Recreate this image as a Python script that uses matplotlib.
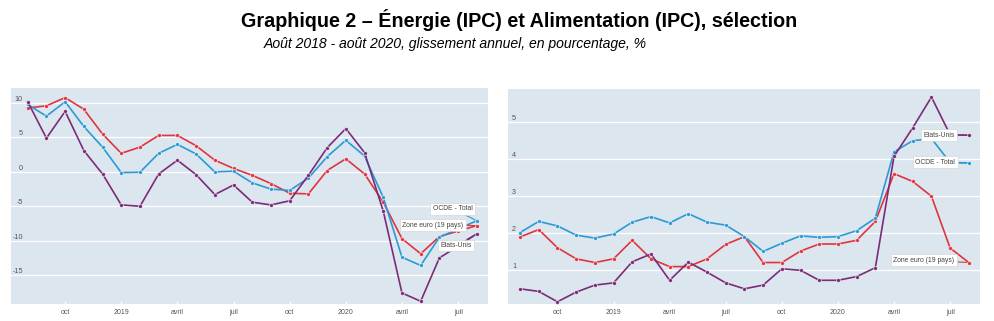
import numpy as np
import matplotlib.pyplot as plt

# mois d'août 2018 à août 2020
months = np.arange(25)
tick_pos = [2, 5, 8, 11, 14, 17, 20, 23]
tick_labels = ["oct", "2019", "avril", "juil", "oct", "2020", "avril", "juil"]

# Energie (IPC), glissement annuel %
energy_euro = [9.3, 9.6, 10.8, 9.1, 5.5, 2.7, 3.6, 5.3, 5.3, 3.8, 1.7, 0.5, -0.5,
               -1.7, -3.1, -3.2, 0.2, 1.9, -0.3, -4.4, -9.7, -11.9, -9.4, -8.6, -7.8]
energy_ocde = [9.8, 8.1, 10.2, 6.6, 3.6, -0.1, -0.05, 2.7, 4.0, 2.6, 0.0, 0.1, -1.6,
               -2.5, -2.7, -0.9, 2.2, 4.6, 2.3, -3.7, -12.4, -13.6, -9.5, -8.3, -7.1]
energy_usa = [10.2, 4.9, 8.8, 3.1, -0.3, -4.8, -5.0, -0.3, 1.7, -0.4, -3.3, -1.9, -4.4,
              -4.8, -4.2, -0.5, 3.5, 6.3, 2.8, -5.7, -17.6, -18.8, -12.5, -10.8, -9.0]

# Alimentation (IPC), glissement annuel %
food_ocde = [2.01, 2.31, 2.19, 1.94, 1.86, 1.97, 2.29, 2.44, 2.27, 2.52, 2.29, 2.21, 1.90,
             1.50, 1.72, 1.92, 1.88, 1.90, 2.06, 2.40, 4.19, 4.49, 4.55, 3.90, 3.89]
food_euro = [1.89, 2.09, 1.60, 1.30, 1.20, 1.30, 1.80, 1.30, 1.09, 1.09, 1.30, 1.69, 1.90,
             1.20, 1.20, 1.51, 1.70, 1.70, 1.80, 2.31, 3.60, 3.39, 2.99, 1.59, 1.20]
food_usa = [0.49, 0.42, 0.14, 0.40, 0.59, 0.65, 1.22, 1.43, 0.72, 1.21, 0.94, 0.65, 0.49,
            0.59, 1.03, 0.99, 0.72, 0.72, 0.82, 1.06, 4.07, 4.84, 5.67, 4.65, 4.64]

RED = "#e0343e"
BLUE = "#2b9ad4"
PURPLE = "#7a2c78"
BG = "#dce6ef"

plt.rcParams["font.family"] = ["Liberation Sans", "DejaVu Sans"]
plt.rcParams["axes.unicode_minus"] = False

fig = plt.figure(figsize=(9.95, 3.21), dpi=100)

fig.text(0.522, 0.938, "Graphique 2 – Énergie (IPC) et Alimentation (IPC), sélection",
         ha="center", va="center", fontsize=14.2, fontweight="bold")
fig.text(0.4575, 0.862, "Août 2018 - août 2020, glissement annuel, en pourcentage, %",
         ha="center", va="center", fontsize=10.1, style="italic")


def draw_panel(ax, series, yticks, ylim, xlim, ypad, labels):
    ax.set_facecolor(BG)
    for s in ax.spines.values():
        s.set_visible(False)
    ax.set_axisbelow(True)
    ax.grid(axis="y", color="white", lw=0.9)
    for vals, col in series:
        ax.plot(months, vals, color=col, lw=1.2, marker="o", ms=2.8,
                mec="white", mew=0.4, zorder=3)
    ax.set_xlim(*xlim)
    ax.set_ylim(*ylim)
    ax.set_xticks(tick_pos, tick_labels)
    ax.set_yticks(yticks)
    ax.tick_params(axis="x", length=2, direction="in", color="white",
                   labelsize=5, labelcolor="#555555", pad=3.5)
    ax.tick_params(axis="y", length=0, labelsize=5.2, labelcolor="#555555", pad=ypad)
    for lbl in ax.get_yticklabels():
        lbl.set_verticalalignment("bottom")
    for text, (tx, ty), vals, col in labels:
        ax.annotate(text, xy=(months[-1], vals[-1]), xytext=(tx, ty),
                    ha="center", va="center", fontsize=4.9, color="#444444",
                    bbox=dict(boxstyle="square,pad=0.35", fc="white", ec="#cfcfcf", lw=0.4),
                    arrowprops=dict(arrowstyle="-", color=col, lw=0.8,
                                    shrinkA=0, shrinkB=1.5),
                    zorder=5)


ax1 = fig.add_axes([0.0111, 0.053, 0.4794, 0.673])
draw_panel(ax1,
           [(energy_euro, RED), (energy_ocde, BLUE), (energy_usa, PURPLE)],
           [-15, -10, -5, 0, 5, 10], (-19.2, 12.2), (-0.89, 24.6), -8.6,
           [("OCDE - Total", (22.7, -5.34), energy_ocde, BLUE),
            ("Zone euro (19 pays)", (21.65, -7.73), energy_euro, RED),
            ("Etats-Unis", (22.9, -10.7), energy_usa, PURPLE)])

ax2 = fig.add_axes([0.5106, 0.053, 0.4744, 0.670])
draw_panel(ax2,
           [(food_euro, RED), (food_ocde, BLUE), (food_usa, PURPLE)],
           [1, 2, 3, 4, 5], (0.08, 5.89), (-0.64, 24.6), -5.8,
           [("Etats-Unis", (22.43, 4.64), food_usa, PURPLE),
            ("OCDE - Total", (22.2, 3.91), food_ocde, BLUE),
            ("Zone euro (19 pays)", (21.6, 1.26), food_euro, RED)])

fig.savefig("out.png", dpi=100)
